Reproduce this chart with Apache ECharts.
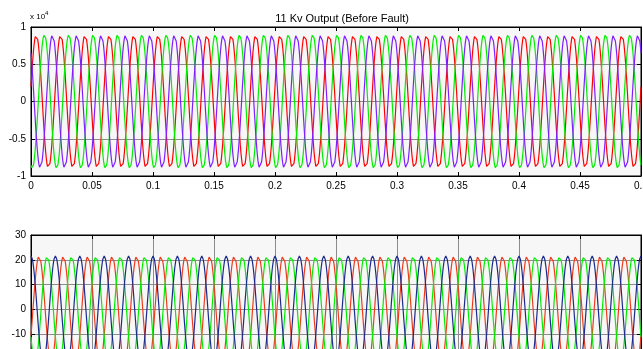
<!DOCTYPE html>
<html>
<head>
<meta charset="utf-8">
<script src="https://cdn.jsdelivr.net/npm/echarts@6/dist/echarts.min.js"></script>
<style>
html,body{margin:0;padding:0;background:#fff;}
#main{width:643px;height:349px;}
</style>
</head>
<body>
<div id="main"></div>
<script>
var chartDom = document.getElementById('main');
var myChart = echarts.init(chartDom);
var option;

// ---- values ----
var xTicks = [0, 0.05, 0.1, 0.15, 0.2, 0.25, 0.3, 0.35, 0.4, 0.45, 0.5];
var topYTicks = [-1, -0.5, 0, 0.5, 1];           // x 10^4
var bottomYTicks = [-30, -20, -10, 0, 10, 20, 30];
var freq = 50;                                    // Hz, 25 cycles in 0.5 s
var sampleStep = 0.0005;                          // s

// top plot (11 kV output): peak volts and time of first peak (s)
var topNames = ['Va', 'Vb', 'Vc'];
var topPeak = [8980, 8980, 8980];
var topPeakTime = [0.0043, 0.0110, 0.0176];
var topColors = ['#ff0000', '#00ee00', '#7f1fff'];

// bottom plot: peak values and time of first peak (s)
var botNames = ['Ia', 'Ib', 'Ic'];
var botPeak = [21.5, 21.5, 21.5];
var botPeakTime = [0.0066, 0.0133, 0.0];
var botColors = ['#ee3b1c', '#00ee00', '#1c2a8e'];

function wave(peak, tPeak) {
    var pts = [];
    var n = Math.round(0.5 / sampleStep);
    for (var i = 0; i <= n; i++) {
        var t = i * sampleStep;
        pts.push([t, peak * Math.cos(2 * Math.PI * freq * (t - tPeak))]);
    }
    return pts;
}

var font = 'Liberation Sans, Arial, sans-serif';
var series = [];
for (var i = 0; i < 3; i++) {
    series.push({
        name: topNames[i], type: 'line', xAxisIndex: 0, yAxisIndex: 0,
        data: wave(topPeak[i], topPeakTime[i]), showSymbol: false,
        lineStyle: {width: 1.2, color: topColors[i]}, color: topColors[i]
    });
}
for (var j = 0; j < 3; j++) {
    series.push({
        name: botNames[j], type: 'line', xAxisIndex: 2, yAxisIndex: 2,
        data: wave(botPeak[j], botPeakTime[j]), showSymbol: false,
        lineStyle: {width: 1.2, color: botColors[j]}, color: botColors[j]
    });
}

function xAx(grid, pos, labels, grid_lines) {
    return {
        type: 'value', gridIndex: grid, position: pos,
        min: xTicks[0], max: xTicks[xTicks.length - 1], interval: 0.05,
        axisLine: {show: true, onZero: false, lineStyle: {color: '#000', width: 1}},
        axisTick: {show: true, inside: true, length: 4, lineStyle: {color: '#000'}},
        axisLabel: {show: labels, color: '#000', fontSize: 10, fontFamily: font, margin: 5},
        splitLine: {show: grid_lines, lineStyle: {color: '#8c8c8c', width: 1}}
    };
}
function yAx(grid, pos, labels, lo, hi, step, fmt, grid_lines) {
    return {
        type: 'value', gridIndex: grid, position: pos,
        min: lo, max: hi, interval: step,
        axisLine: {show: true, onZero: false, lineStyle: {color: '#000', width: 1}},
        axisTick: {show: true, inside: true, length: 4, lineStyle: {color: '#000'}},
        axisLabel: {show: labels, color: '#000', fontSize: 10, fontFamily: font, margin: 5, formatter: fmt},
        splitLine: {show: grid_lines, lineStyle: {color: '#8c8c8c', width: 1}}
    };
}

option = {
    animation: false,
    backgroundColor: '#fff',
    title: {
        text: '11 Kv Output (Before Fault)',
        left: 337, top: 8, textAlign: 'center',
        textStyle: {fontSize: 11, fontWeight: 'normal', color: '#000', fontFamily: font}
    },
    graphic: [{
        type: 'text', left: 30, top: 10,
        style: {
            text: '{a|x 10}{b|4}',
            rich: {
                a: {fontSize: 8, fill: '#000', fontFamily: font, verticalAlign: 'bottom'},
                b: {fontSize: 6, fill: '#000', fontFamily: font, verticalAlign: 'top', padding: [0, 0, 5, 0]}
            }
        }
    }],
    grid: [
        {left: 31, top: 27, width: 610, height: 149, outerBoundsMode: 'none', containLabel: false,
         show: true, backgroundColor: '#f7f7f7', borderColor: '#000', borderWidth: 1},
        {left: 31, top: 235, width: 610, height: 149, outerBoundsMode: 'none', containLabel: false,
         show: true, backgroundColor: '#f7f7f7', borderColor: '#000', borderWidth: 1}
    ],
    xAxis: [
        xAx(0, 'bottom', true, false),
        xAx(0, 'top', false, false),
        xAx(1, 'bottom', true, true),
        xAx(1, 'top', false, false)
    ],
    yAxis: [
        yAx(0, 'left', true, topYTicks[0] * 1e4, topYTicks[topYTicks.length - 1] * 1e4, 5000,
            function (v) { return String(v / 1e4); }, true),
        yAx(0, 'right', false, topYTicks[0] * 1e4, topYTicks[topYTicks.length - 1] * 1e4, 5000, null, false),
        yAx(1, 'left', true, bottomYTicks[0], bottomYTicks[bottomYTicks.length - 1], 10, null, true),
        yAx(1, 'right', false, bottomYTicks[0], bottomYTicks[bottomYTicks.length - 1], 10, null, false)
    ],
    series: series
};
option && myChart.setOption(option);
</script>
</body>
</html>
